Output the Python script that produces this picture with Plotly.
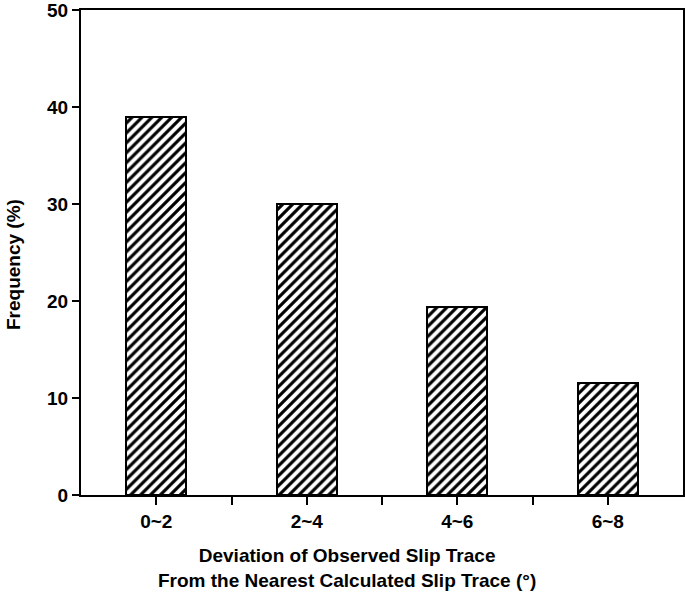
import plotly.graph_objects as go

categories = ["0~2", "2~4", "4~6", "6~8"]
frequency = [39.0, 30.0, 19.4, 11.5]
y_ticks = [0, 10, 20, 30, 40, 50]

x_pos = list(range(len(categories)))

fig = go.Figure()
fig.add_trace(go.Bar(
    x=x_pos, y=frequency, width=0.4,
    marker=dict(color="white",
                line=dict(color="black", width=2),
                pattern=dict(shape="/", fgcolor="black", bgcolor="white", size=7, solidity=0.45, fgopacity=1)),
    showlegend=False,
))

font_family = "Liberation Sans, Arial, sans-serif"
fig.update_layout(
    width=685, height=602,
    margin=dict(l=81, r=2, t=10, b=107, autoexpand=False),
    plot_bgcolor="white", paper_bgcolor="white",
    font=dict(family=font_family, size=19, color="black"),
    bargap=0,
)
fig.update_xaxes(
    range=[-0.5, 3.5], automargin=False,
    tickvals=x_pos, ticktext=[f"<b>{c}</b>" for c in categories],
    ticks="outside", ticklen=8, tickwidth=1.5, tickcolor="black",
    minor=dict(tickvals=[i + 0.5 for i in x_pos[:-1]], ticks="outside", ticklen=8, tickwidth=1.5, tickcolor="black"),
    showline=True, linewidth=2, linecolor="black", mirror=True,
    showgrid=False, zeroline=False,
    tickfont=dict(size=19), ticklabeloverflow="allow",
)
fig.update_yaxes(
    range=[0, 50], automargin=False,
    tickvals=y_ticks, ticktext=[f"<b>{v}</b>" for v in y_ticks],
    ticks="outside", ticklen=7, tickwidth=1.5, tickcolor="black",
    showline=True, linewidth=2, linecolor="black", mirror=True,
    showgrid=False, zeroline=False,
    tickfont=dict(size=19), ticklabeloverflow="allow",
)
fig.add_annotation(
    text="<b>Deviation of Observed Slip Trace</b><br><b>From the Nearest Calculated Slip Trace (°)</b>",
    xref="paper", yref="paper", x=(347 - 81) / 602, y=-(568 - 495) / 485,
    xanchor="center", yanchor="middle", showarrow=False,
    font=dict(size=19), align="center",
)
fig.add_annotation(
    text="<b>Frequency (%)</b>",
    xref="paper", yref="paper", x=-(81 - 13) / 602, y=(495 - 265) / 485,
    xanchor="center", yanchor="middle", showarrow=False, textangle=-90,
    font=dict(size=19),
)
fig.write_html(
    "out.html",
    config={"displayModeBar": False},
    post_script="document.body.style.margin='0';document.body.style.overflow='hidden';",
)
